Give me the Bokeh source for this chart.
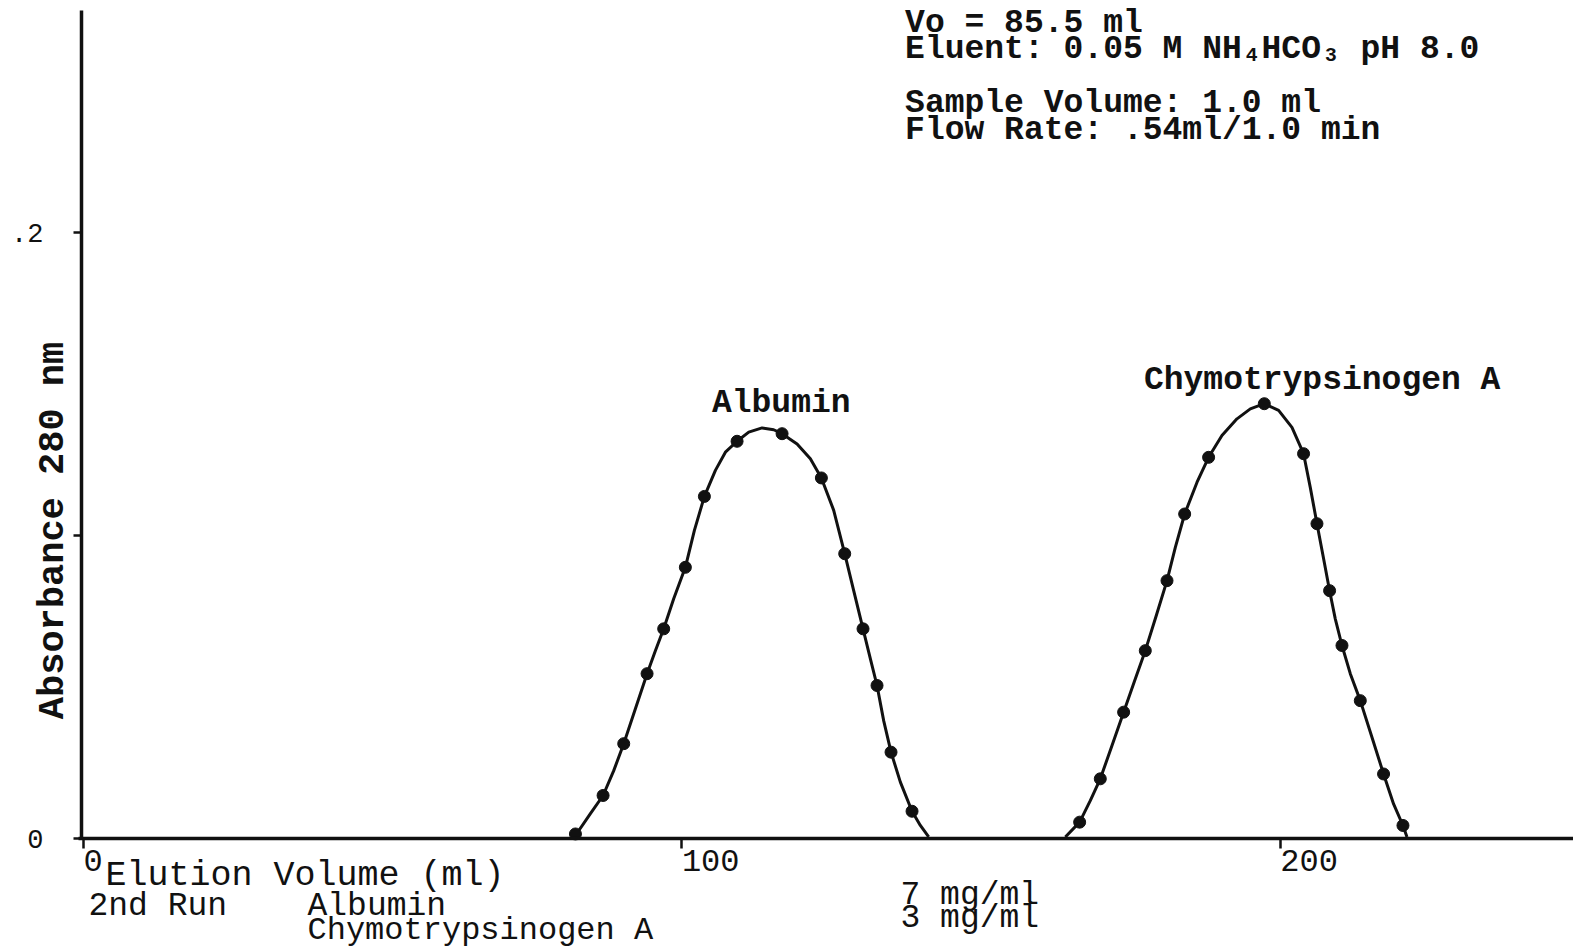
import math
from bokeh.plotting import figure
from bokeh.models import Range1d, Label, FixedTicker
from bokeh.embed import file_html
from bokeh.resources import INLINE
from bokeh.core.properties import value

FONT = "Liberation Mono"
INK = "#111111"

# ---- data ----
x_ticks = [0, 100, 200]
x_tick_labels = ["0", "100", "200"]
y_ticks = [0, 0.1, 0.2]
y_tick_labels = ["0", "", ".2"]

# measured fractions (dots)
albumin_dot_x = [82.21, 86.83, 90.28, 94.18, 96.96, 100.58, 103.76, 109.22, 116.74, 123.31, 127.21, 130.27, 132.61, 134.95, 138.46]
albumin_dot_y = [0.0015, 0.0142, 0.0313, 0.0544, 0.0692, 0.0895, 0.1129, 0.1311, 0.1336, 0.1190, 0.0940, 0.0692, 0.0505, 0.0285, 0.0090]

chymo_dot_x = [166.47, 169.92, 173.82, 177.44, 181.07, 184.02, 188.02, 197.33, 203.89, 206.13, 208.24, 210.31, 213.37, 217.26, 220.50]
chymo_dot_y = [0.0054, 0.0197, 0.0417, 0.0620, 0.0851, 0.1071, 0.1258, 0.1435, 0.1270, 0.1039, 0.0818, 0.0637, 0.0455, 0.0213, 0.0043]

# hand-drawn curves
albumin_curve_x = [82.21, 84.71, 86.83, 88.61, 90.28, 92.23, 94.18, 95.57, 96.96, 98.63, 100.58, 102.09, 103.76,
                   105.60, 107.27, 109.22, 111.17, 113.40, 115.34, 116.74, 119.25, 121.47, 123.31, 125.37,
                   127.21, 128.71, 130.27, 131.50, 132.61, 133.72, 134.95, 136.51, 138.46, 139.85, 141.24]
albumin_curve_y = [0.0010, 0.0082, 0.0142, 0.0224, 0.0313, 0.0428, 0.0544, 0.0620, 0.0692, 0.0791, 0.0895, 0.1017, 0.1129,
                   0.1215, 0.1275, 0.1311, 0.1341, 0.1355, 0.1349, 0.1336, 0.1302, 0.1253, 0.1190, 0.1083,
                   0.0940, 0.0818, 0.0692, 0.0593, 0.0505, 0.0389, 0.0285, 0.0186, 0.0090, 0.0043, 0.0005]

chymo_curve_x = [164.08, 166.47, 168.25, 169.92, 171.88, 173.82, 175.66, 177.44, 179.28, 181.07, 182.46, 184.02, 186.09,
                 188.02, 190.25, 192.76, 194.99, 197.33, 199.72, 201.95, 203.89, 205.01, 206.13, 207.24, 208.24,
                 209.19, 210.31, 211.70, 213.37, 215.32, 217.26, 218.93, 220.50, 221.17]
chymo_curve_y = [0.0005, 0.0054, 0.0125, 0.0197, 0.0307, 0.0417, 0.0521, 0.0620, 0.0736, 0.0851, 0.0961, 0.1071, 0.1176,
                 0.1258, 0.1330, 0.1385, 0.1418, 0.1435, 0.1413, 0.1357, 0.1270, 0.1159, 0.1039, 0.0923, 0.0818,
                 0.0725, 0.0637, 0.0544, 0.0455, 0.0334, 0.0213, 0.0114, 0.0043, 0.0005]

peak_names = ["Albumin", "Chymotrypsinogen A"]
peak_label_x = [116.6, 207.0]
peak_label_y = [0.1436, 0.1511]

info_lines = ["Vo = 85.5 ml", "Eluent: 0.05 M NH\u2084HCO\u2083 pH 8.0", "Sample Volume: 1.0 ml", "Flow Rate: .54ml/1.0 min"]
info_y = [0.2690, 0.2604, 0.2425, 0.2336]
info_x = 137.3

run_texts = ["Elution Volume (ml)", "2nd Run", "Albumin", "Chymotrypsinogen A", "7 mg/ml", "3 mg/ml"]

# ---- figure: the frame fills the canvas, axes are pinned at the data origin ----
p = figure(width=1573, height=952, output_backend="svg", toolbar_location=None,
           x_range=Range1d(-13.87, 249.0), y_range=Range1d(-0.03762, 0.27657),
           min_border_left=0, min_border_right=0, min_border_top=0, min_border_bottom=0)
p.outline_line_color = None
p.grid.visible = False
p.background_fill_color = "white"
p.border_fill_color = "white"

xa = p.xaxis[0]
xa.fixed_location = 0
xa.bounds = (-0.83, 249.0)
xa.ticker = FixedTicker(ticks=x_ticks)
xa.major_label_overrides = {t: "" for t in x_ticks}
xa.axis_line_width = 3.5
xa.axis_line_color = INK
xa.major_tick_out = 10
xa.major_tick_in = 0
xa.major_tick_line_width = 2.5
xa.major_tick_line_color = INK
xa.minor_tick_line_color = None

ya = p.yaxis[0]
ya.fixed_location = -0.33
ya.bounds = (0, 0.2733)
ya.ticker = FixedTicker(ticks=y_ticks)
ya.major_label_overrides = {t: l for t, l in zip(y_ticks, y_tick_labels)}
ya.axis_line_width = 3.5
ya.axis_line_color = INK
ya.major_tick_out = 8
ya.major_tick_in = 0
ya.major_tick_line_width = 2.5
ya.major_tick_line_color = INK
ya.minor_tick_line_color = None
ya.major_label_text_font = FONT
ya.major_label_text_font_size = "27px"
ya.major_label_text_color = INK
ya.major_label_standoff = 30

# x tick labels, typed just right of each tick
p.text(x=x_ticks, y=[0] * len(x_ticks), text=x_tick_labels, text_font=value(FONT),
       text_font_size="32px", text_align="left", text_baseline="top",
       x_offset=0, y_offset=11, text_color=INK)

# curves and measured points
p.line(albumin_curve_x, albumin_curve_y, line_width=3, line_color=INK, line_join="round")
p.line(chymo_curve_x, chymo_curve_y, line_width=3, line_color=INK, line_join="round")
p.scatter(albumin_dot_x, albumin_dot_y, size=12, color=INK)
p.scatter(chymo_dot_x, chymo_dot_y, size=12, color=INK)

# peak labels
p.text(x=peak_label_x, y=peak_label_y, text=peak_names, text_font=value(FONT),
       text_font_size="33px", text_font_style="bold", text_align="center", text_baseline="middle",
       text_color=INK)

# info block
p.text(x=[info_x] * len(info_lines), y=info_y, text=info_lines, text_font=value(FONT),
       text_font_size="33px", text_font_style="bold", text_align="left", text_baseline="middle",
       text_color=INK)

# y axis title (screen units, canvas bottom-left origin since the frame fills the canvas)
p.add_layout(Label(x=52, y=422, x_units="screen", y_units="screen", text="Absorbance 280 nm",
                   angle=math.pi / 2, text_align="center", text_baseline="middle",
                   text_font=FONT, text_font_size="37px", text_font_style="bold", text_color=INK))

# texts under the axis
run_pos = [(105, 77, "35px"), (88, 46, "33px"), (307, 46, "33px"), (307, 22, "32px"), (900, 57, "33px"), (900, 34, "33px")]
for t, (bx, by, fs) in zip(run_texts, run_pos):
    p.add_layout(Label(x=bx, y=by, x_units="screen", y_units="screen", text=t,
                       text_align="left", text_baseline="middle",
                       text_font=FONT, text_font_size=fs, text_color=INK))

open("out.html", "w").write(file_html(p, INLINE))
